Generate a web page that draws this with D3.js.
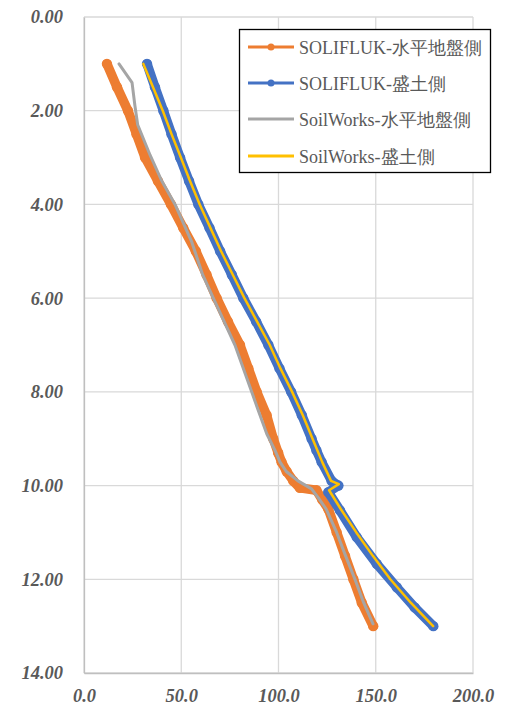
<!DOCTYPE html>
<html><head><meta charset="utf-8">
<script src="https://cdn.jsdelivr.net/npm/d3@7"></script>
<style>body{margin:0;background:#fff;} svg{display:block;}</style>
</head><body><div id="chart"></div>
<script>
// ---- data (x = value, depth = y) ----
const seriesNames = ["SOLIFLUK-水平地盤側","SOLIFLUK-盛土側","SoilWorks-水平地盤側","SoilWorks-盛土側"];
const seriesColors = ["#ED7D31","#4472C4","#A5A5A5","#FFC000"];

const orangeDepth = [1.0,1.5,2.0,2.5,3.0,3.5,4.0,4.5,5.0,5.5,6.0,6.5,7.0,7.5,8.0,8.5,9.0,9.3,9.5,9.7,9.9,10.05,10.1,10.3,10.5,11.0,11.5,12.0,12.5,13.0];
const orangeValue = [11.8,17,22.6,27,31.4,38,44.7,51,57.5,63,68.2,74,80.2,84.5,88.8,93.9,97.3,99.8,101.6,104.2,107.6,111,119.5,122.5,125.6,129.9,134.2,138.5,142.8,148.7];

const blueDepth = [1.0,1.5,2.0,2.5,3.0,3.5,4.0,4.5,5.0,5.5,6.0,6.5,7.0,7.5,8.0,8.5,9.0,9.25,9.5,9.9,10.0,10.14,10.53,11.1,11.67,12.17,12.6,13.0];
const blueValue = [32.4,36.5,40.8,45,49.4,54,58.8,64.5,70,76,81.9,88.5,94.8,100.5,106.5,112,117,119.5,122.2,127.3,130.8,125.6,131.6,140.2,150.5,160.8,170,179.6];

const grayDepth = [1.0,1.4,1.9,2.3,2.95,3.5,4.0,4.8,5.5,6.0,7.0,8.0,8.5,8.9,9.25,9.5,9.7,9.9,10.07,10.25,10.5,11.0,11.5,12.0,12.5,12.95];
const grayValue = [18,24.7,26.2,27.6,34,40,46.8,55.4,61,66.5,77.6,86.2,90.5,94,98.2,100.8,104,110,117,120.3,124.5,129.9,134.5,139.3,143.8,148.6];

const yellowDepth = [1.0,1.5,2.0,2.5,3.0,3.5,4.0,4.5,5.0,5.5,6.0,6.5,7.0,7.5,8.0,8.5,9.0,9.5,9.9,9.97,10.1,10.5,11.0,11.5,12.0,12.5,13.0];
const yellowValue = [30.5,35.5,40.5,45,49.8,54.5,59.5,65,70.5,76.5,82.5,89,95.5,101,107,112.5,117.5,122.5,127,131,126,132,140,148.5,157.5,168,179.5];

const xTicks = [0,50,100,150,200];
const yTicks = [0,2,4,6,8,10,12,14];

// ---- layout ----
const W = 527, H = 708;
const L = 84, R = 473, T = 17, B = 673;
const SERIF = "'Liberation Serif', 'Times New Roman', serif";
const svg = d3.select("#chart").append("svg").attr("width", W).attr("height", H);
const x = d3.scaleLinear().domain([0,200]).range([L,R]);
const y = d3.scaleLinear().domain([0,14]).range([T,B]);

// gridlines
svg.append("g").selectAll("line").data(yTicks).join("line")
  .attr("x1", L).attr("x2", R).attr("y1", d=>y(d)).attr("y2", d=>y(d))
  .attr("stroke", "#d9d9d9").attr("stroke-width", 1.3);
svg.append("g").selectAll("line").data(xTicks).join("line")
  .attr("x1", d=>x(d)).attr("x2", d=>x(d)).attr("y1", T).attr("y2", B)
  .attr("stroke", "#d9d9d9").attr("stroke-width", 1.3);

// axes
const yAxis = d3.axisLeft(y).tickValues(yTicks).tickFormat(d3.format(".2f")).tickSize(0).tickPadding(21);
const xAxis = d3.axisBottom(x).tickValues(xTicks).tickFormat(d3.format(".1f")).tickSize(0).tickPadding(16);
const gy = svg.append("g").attr("transform", `translate(${L},0)`).call(yAxis);
const gx = svg.append("g").attr("transform", `translate(0,${B})`).call(xAxis);
[gx, gy].forEach(g => {
  g.attr("font-family", null).attr("font-size", null);
  g.select(".domain").attr("stroke", "#bfbfbf").attr("stroke-width", 1.3);
  g.selectAll("text")
    .style("font-family", SERIF)
    .style("font-size", "18.5px").style("font-weight", "bold").style("font-style", "italic")
    .attr("fill", "#595959");
});

// series
const series = [
  {depth: orangeDepth, value: orangeValue, color: seriesColors[0], width: 3, marker: true},
  {depth: blueDepth, value: blueValue, color: seriesColors[1], width: 3, marker: true},
  {depth: grayDepth, value: grayValue, color: seriesColors[2], width: 3, marker: false},
  {depth: yellowDepth, value: yellowValue, color: seriesColors[3], width: 2.5, marker: false}
];
const line = d3.line().x(d=>x(d[0])).y(d=>y(d[1]));
series.forEach(s => {
  const pts = s.value.map((v,i)=>[v, s.depth[i]]);
  if (s.marker) {
    svg.append("path").datum(pts).attr("d", line).attr("fill","none")
      .attr("stroke", s.color).attr("stroke-width", 9.5)
      .attr("stroke-linejoin","round").attr("stroke-linecap","round");
    svg.append("g").selectAll("circle").data(pts).join("circle")
      .attr("cx", d=>x(d[0])).attr("cy", d=>y(d[1])).attr("r", 5.2).attr("fill", s.color);
  } else {
    svg.append("path").datum(pts).attr("d", line).attr("fill","none")
      .attr("stroke", s.color).attr("stroke-width", s.width)
      .attr("stroke-linejoin","round").attr("stroke-linecap","round");
  }
});

// legend
const lg = svg.append("g");
lg.append("rect").attr("x", 239.5).attr("y", 29.5).attr("width", 251).attr("height", 143)
  .attr("fill", "#fff").attr("stroke", "#000").attr("stroke-width", 1.3);
const legY = [47, 83, 119, 156];
seriesNames.forEach((n,i) => {
  const g = lg.append("g");
  g.append("line").attr("x1", 248).attr("x2", 294).attr("y1", legY[i]).attr("y2", legY[i])
    .attr("stroke", seriesColors[i]).attr("stroke-width", 3);
  if (i < 2) g.append("circle").attr("cx", 271).attr("cy", legY[i]).attr("r", 3.5).attr("fill", seriesColors[i]);
  g.append("text").attr("x", 299).attr("y", legY[i] + 6.5)
    .style("font-family", SERIF).style("font-size", "18px")
    .attr("fill", "#595959").text(n);
});
</script>
</body></html>
